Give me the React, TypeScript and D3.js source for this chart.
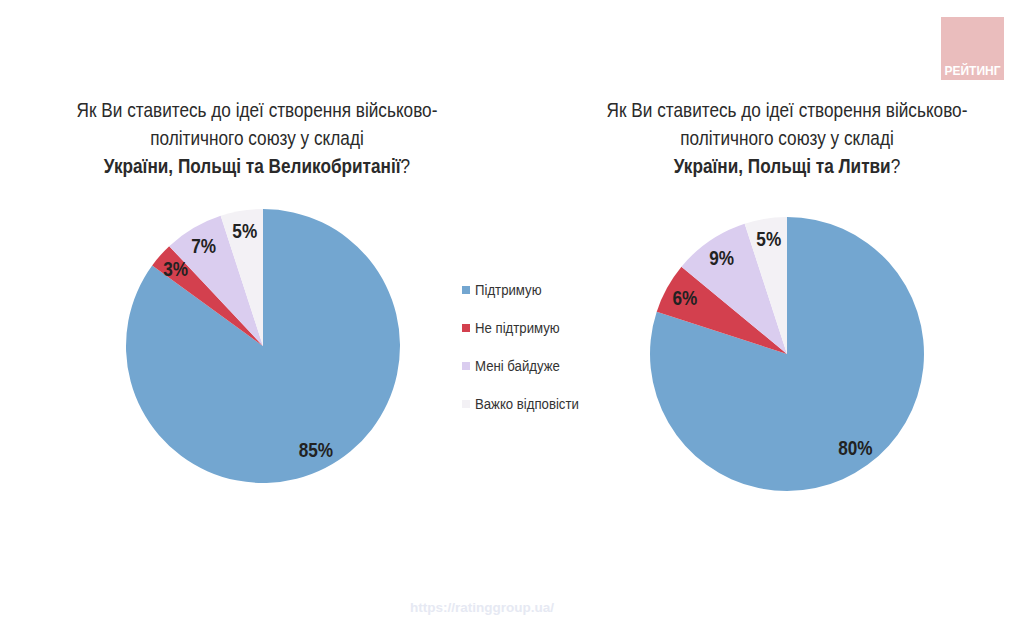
import React from "react";
import * as d3 from "d3";

const categories = ["Підтримую", "Не підтримую", "Мені байдуже", "Важко відповісти"];
const colors = ["#73a6d0", "#d3404e", "#dacdef", "#f3f1f5"];
const valuesUK = [85, 3, 7, 5];
const valuesLT = [80, 6, 9, 5];
const titleLine1 = "Як Ви ставитесь до ідеї створення військово-";
const titleLine2 = "політичного союзу у складі";
const boldUK = "України, Польщі та Великобританії";
const boldLT = "України, Польщі та Литви";

const FONT = "'Liberation Sans', Arial, sans-serif";
const R = 137;

function NText({ x, y, sx, children, ...rest }: any) {
  return (
    <text transform={`translate(${x},${y}) scale(${sx},1)`} {...rest}>
      {children}
    </text>
  );
}

function Pie({ cx, cy, values }: { cx: number; cy: number; values: number[] }) {
  const pie = d3.pie<number>().sort(null).value((d) => d);
  const arcs = pie(values);
  const arc = d3.arc<d3.PieArcDatum<number>>().innerRadius(0).outerRadius(R);
  const labelArc = d3.arc<d3.PieArcDatum<number>>().innerRadius(R * 0.85).outerRadius(R * 0.85);
  return (
    <g transform={`translate(${cx},${cy})`}>
      {arcs.map((a, i) => (
        <path key={i} d={arc(a) || ""} fill={colors[i]} />
      ))}
      {arcs.map((a, i) => {
        const [x, y] = labelArc.centroid(a);
        return (
          <NText key={"l" + i} x={x} y={y} sx={0.86} dy="0.35em" textAnchor="middle" fontFamily={FONT} fontWeight="bold" fontSize={20} fill="#222">
            {values[i]}%
          </NText>
        );
      })}
    </g>
  );
}

function Title({ cx, bold }: { cx: number; bold: string }) {
  return (
    <g fontFamily={FONT} fontSize={20} fill="#2a2a2a" textAnchor="middle">
      <NText x={cx} y={117} sx={0.86}>{titleLine1}</NText>
      <NText x={cx} y={145} sx={0.86}>{titleLine2}</NText>
      <NText x={cx} y={173} sx={0.86}>
        <tspan fontWeight="bold">{bold}</tspan>
        <tspan>?</tspan>
      </NText>
    </g>
  );
}

export default function App() {
  const legendY = d3.scalePoint<string>().domain(categories).range([290, 404]);
  return (
    <svg width={1024} height={620} style={{ position: "absolute", left: 0, top: 0 }}>
      <rect width={1024} height={620} fill="#ffffff" />
      <rect x={941} y={17} width={63} height={63} fill="#eabdbd" />
      <text x={972.5} y={75} textAnchor="middle" fontFamily={FONT} fontWeight="bold" fontSize={12} fill="#ffffff">
        РЕЙТИНГ
      </text>
      <Title cx={257} bold={boldUK} />
      <Title cx={787} bold={boldLT} />
      <Pie cx={263} cy={346} values={valuesUK} />
      <Pie cx={787} cy={354} values={valuesLT} />
      <g fontFamily={FONT} fontSize={15} fill="#333">
        {categories.map((c, i) => (
          <g key={c} transform={`translate(462,${legendY(c)})`}>
            <rect x={0} y={-4} width={8} height={8} fill={colors[i]} />
            <NText x={13} y={0} sx={0.88} dy="0.35em">{c}</NText>
          </g>
        ))}
      </g>
      <text x={482} y={612} textAnchor="middle" fontFamily={FONT} fontWeight="bold" fontSize={13.5} fill="#e6e9f3">
        https://ratinggroup.ua/
      </text>
    </svg>
  );
}
